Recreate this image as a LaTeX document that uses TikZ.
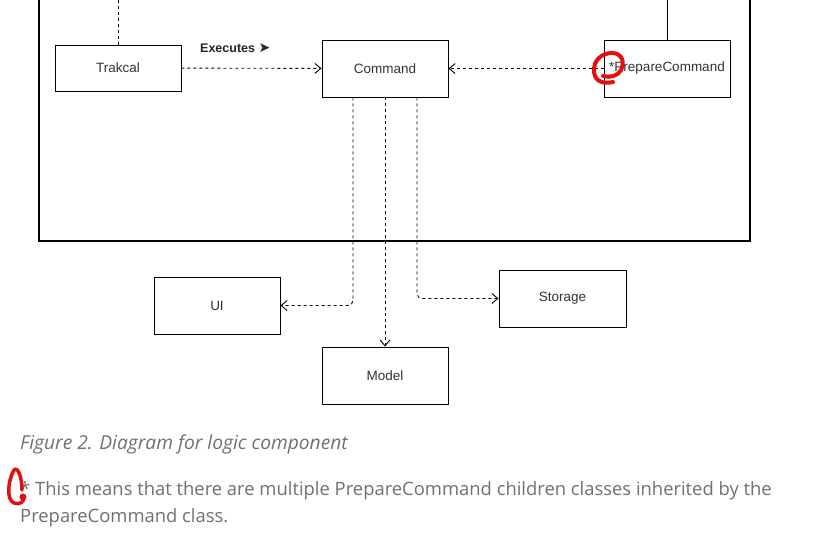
\documentclass[tikz,border=0pt]{standalone}
\usepackage{fontspec}
\setmainfont{Liberation Sans}
\newfontfamily\capfont{Open Sans}
\newfontfamily\symfont{DejaVu Sans}
\usetikzlibrary{arrows.meta}
\definecolor{capgray}{RGB}{112,112,112}
\definecolor{markred}{RGB}{228,16,16}

\begin{document}
\begin{tikzpicture}[x=1pt, y=-1pt]
    \tikzstyle{cls} = [rectangle, minimum width=126pt, minimum height=57pt, inner sep=0pt, text centered, draw=black, line width=0.9pt, font=\fontsize{13.5}{16}\selectfont, text=black!80]
    \tikzstyle{dep} = [dash pattern=on 3pt off 3pt, line width=0.9pt, -{Straight Barb[length=6pt, width=10pt]}]
    \tikzstyle{capnote} = [anchor=west, inner sep=0pt, text=capgray, align=left]
    \clip (0,0) rectangle (838,550);
    \fill[white] (0,0) rectangle (838,550);
    % logic component frame
    \draw[line width=1.4pt] (39,-20) rectangle (750,241);
    \node (trakcal) [cls, minimum height=46pt] at (118,68) {Trakcal};
    \node (command) [cls] at (385,68.5) {Command};
    \node (prepare) [cls] at (667,68.5) {*PrepareCommand};
    \node (ui) [cls] at (217,305.5) {UI};
    \node (storage) [cls, minimum width=127pt] at (562.5,298.5) {Storage};
    \node (model) [cls] at (385,375.5) {Model};
    \coordinate (trakup) at (118,-10);
    \coordinate (prepup) at (667,-10);
    \draw[dash pattern=on 3pt off 3pt, line width=0.9pt] (trakcal.north) -- (trakup);
    \draw[line width=0.9pt] (prepare.north) -- (prepup);
    \draw[dep] (trakcal) -- (command);
    \node (exec) [anchor=west, inner sep=0pt, font=\fontsize{12.5}{15}\selectfont\bfseries, text=black!85] at (200,48) {Executes \symfont\fontsize{14}{15}\selectfont ➤};
    \draw[dep] (prepare) -- (command);
    \draw[dep, rounded corners=5pt] ([xshift=-32pt]command.south) |- (ui.east);
    \draw[dep] (command.south) -- (model.north);
    \draw[dep, rounded corners=5pt] ([xshift=32pt]command.south) |- (storage.west);
    % red marks
    \draw[markred, line width=4pt, line cap=round] (613,82) .. controls (604,84) and (595,82) .. (594,72) .. controls (593,60) and (602,53) .. (612,53) .. controls (622,53) and (625,62) .. (621,70) .. controls (618,76) and (610,78) .. (603,76);
    % caption and note
    \node (caption) [capnote, font=\capfont\itshape\fontsize{19.2}{22}\selectfont] at (20,444) {Figure 2. Diagram for logic component};
    \node (note) [capnote, font=\capfont\fontsize{18.4}{27}\selectfont] at (20,504.5) {* This means that there are multiple PrepareCommand children classes inherited by the\\PrepareCommand class.};
    \draw[markred, line width=3.5pt, line cap=round] (22,490) .. controls (22,478) and (18,466) .. (14,470) .. controls (8,480) and (6,500) .. (14,503) .. controls (20,505) and (24,502) .. (24,497);
    \fill[markred] (23,497) circle (3.5);
\end{tikzpicture}
\end{document}
